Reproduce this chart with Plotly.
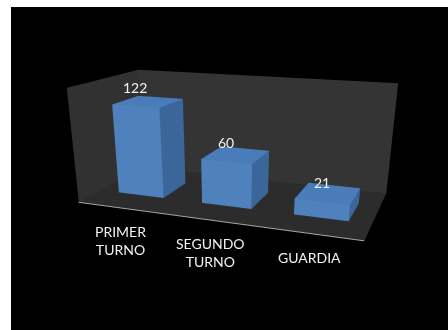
import plotly.graph_objects as go

# Data
categories = ["PRIMER<br>TURNO", "SEGUNDO<br>TURNO", "GUARDIA"]
values = [122, 60, 21]

# Value axis top (height of the walls)
Z_MAX = 150

# Bar footprint in axis units
BAR_HALF_WIDTH = 0.275
BAR_FRONT, BAR_BACK = 0.305, 0.695

FACE_FRONT = "#4f81bd"
FACE_TOP = "#4a7cba"
FACE_SIDE = "#3b6699"

FIG_W, FIG_H = 448, 510


def bar_mesh(i, v):
    x0, x1 = i - BAR_HALF_WIDTH, i + BAR_HALF_WIDTH
    y0, y1 = BAR_FRONT, BAR_BACK
    xs = [x0, x1, x1, x0, x0, x1, x1, x0]
    ys = [y0, y0, y1, y1, y0, y0, y1, y1]
    zs = [0, 0, 0, 0, v, v, v, v]
    tris = [
        (0, 1, 2, FACE_SIDE), (0, 2, 3, FACE_SIDE),     # bottom
        (4, 5, 6, FACE_TOP), (4, 6, 7, FACE_TOP),       # top
        (0, 1, 5, FACE_FRONT), (0, 5, 4, FACE_FRONT),   # front
        (3, 2, 6, FACE_SIDE), (3, 6, 7, FACE_SIDE),     # back
        (0, 3, 7, FACE_SIDE), (0, 7, 4, FACE_SIDE),     # left
        (1, 2, 6, FACE_SIDE), (1, 6, 5, FACE_SIDE),     # right
    ]
    return go.Mesh3d(
        x=xs, y=ys, z=zs,
        i=[t[0] for t in tris], j=[t[1] for t in tris], k=[t[2] for t in tris],
        facecolor=[t[3] for t in tris],
        flatshading=True,
        lighting=dict(ambient=1.0, diffuse=0.0, specular=0.0, roughness=1.0, fresnel=0.0),
        hoverinfo="skip",
        showscale=False,
    )


fig = go.Figure([bar_mesh(i, v) for i, v in enumerate(values)])

label_font = dict(family="Lato, Open Sans, sans-serif", size=14, color="#f2f2f2")

annotations = []
for i, (cat, v) in enumerate(zip(categories, values)):
    annotations.append(dict(
        x=i, y=0, z=0, text=cat, showarrow=False,
        xanchor="center", yanchor="top", yshift=-13, font=label_font,
    ))
    annotations.append(dict(
        x=i, y=BAR_FRONT, z=v, text=str(v), showarrow=False,
        xanchor="center", yanchor="middle", yshift=19, font=label_font,
    ))

axis_common = dict(
    showgrid=False, zeroline=False, showticklabels=False, ticks="",
    title=dict(text=""), showspikes=False, showbackground=True,
)

fig.update_layout(
    width=FIG_W, height=FIG_H,
    margin=dict(l=0, r=0, t=0, b=0),
    paper_bgcolor="white",
    showlegend=False,
    font=dict(family="Lato, Open Sans, sans-serif"),
    scene=dict(
        domain=dict(x=[11 / FIG_W, 1], y=[0, 1]),
        bgcolor="black",
        xaxis=dict(range=[-0.5, 2.5], backgroundcolor="#313131",
                   showline=True, linecolor="#a6a6a6", linewidth=2, **axis_common),
        yaxis=dict(range=[0, 1], backgroundcolor="#343434", showline=False, **axis_common),
        zaxis=dict(range=[0, Z_MAX], backgroundcolor="#2c2c2c", showline=False, **axis_common),
        aspectmode="manual",
        aspectratio=dict(x=2.0, y=0.9716, z=0.7874),
        camera=dict(
            eye=dict(x=1.4492, y=-3.9621, z=1.0246),
            center=dict(x=0.1564, y=-0.5413, z=-0.5958),
            up=dict(x=0, y=0, z=1),
            projection=dict(type="perspective"),
        ),
        annotations=annotations,
    ),
    shapes=[dict(type="rect", xref="paper", yref="paper",
                 x0=0, x1=1, y0=1 - 7 / FIG_H, y1=1,
                 fillcolor="white", line=dict(width=0), layer="above")],
)

fig.write_html("out.html")
